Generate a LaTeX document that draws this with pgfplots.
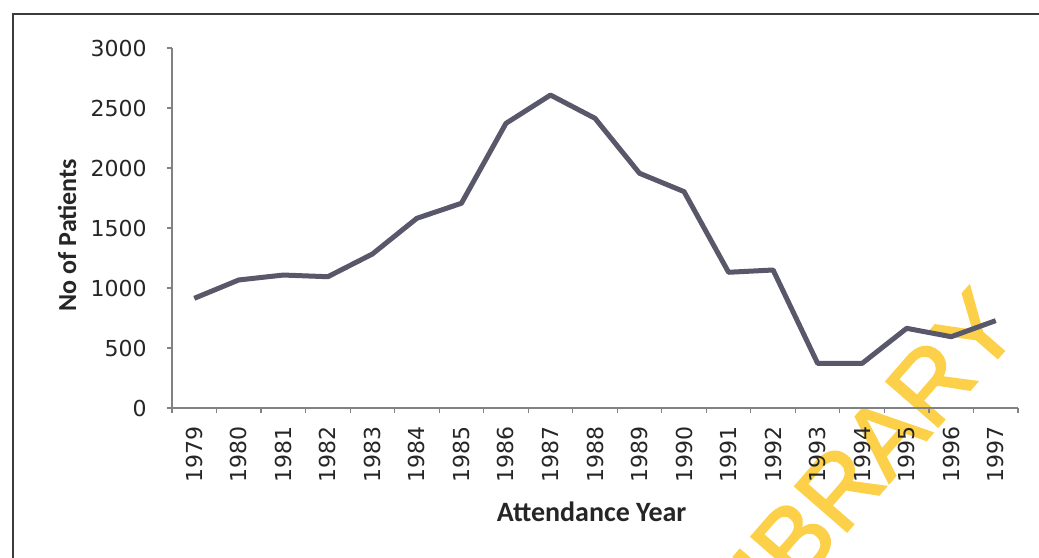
\documentclass[border=0pt]{standalone}
\usepackage{pgfplots}
\usepackage{pgfplotstable}
\pgfplotsset{compat=1.18}
\usepackage{fontspec}
\setmainfont{DejaVu Sans}
\newfontfamily\titlefont{Carlito}
\newfontfamily\stampfont[FakeBold=2]{Liberation Sans}

\definecolor{seriesgray}{RGB}{88,88,106}
\definecolor{axisgray}{RGB}{130,130,130}
\definecolor{framegray}{RGB}{60,60,60}
\definecolor{stampyellow}{RGB}{252,208,72}

% Patients seen per attendance year (index 0 = 1979)
\pgfplotstableread{
idx year patients
0  1979 914
1  1980 1067
2  1981 1108
3  1982 1094
4  1983 1283
5  1984 1581
6  1985 1706
7  1986 2372
8  1987 2608
9  1988 2414
10 1989 1956
11 1990 1803
12 1991 1131
13 1992 1150
14 1993 372
15 1994 372
16 1995 664
17 1996 594
18 1997 728
}\attendance

\begin{document}
\begin{tikzpicture}
\useasboundingbox (0,0) rectangle (519.5pt,278.5pt);
% chart-area frame (only the top and left edges fall on the page)
\draw[framegray, line width=1pt] (6.5pt,-5pt) -- (6.5pt,271.5pt) -- (530pt,271.5pt);
% library stamp
\node[rotate=49, anchor=base east, inner sep=0pt, text=stampyellow,
      font=\stampfont\fontsize{50}{50}\selectfont] at (511.5pt,114pt) {LIBRARY};
\begin{axis}[
  at={(86pt,74.5pt)}, anchor=south west,
  scale only axis, width=423pt, height=180pt,
  xmin=-0.5, xmax=18.5, ymin=0, ymax=3000,
  axis x line=bottom, axis y line=left,
  axis line style={-, axisgray, line width=0.75pt},
  tick align=outside, major tick length=2.5pt,
  tick style={axisgray, line width=0.6pt},
  xtick={-0.5,0.5,...,18.5}, xticklabels={},
  extra x ticks={0,...,18},
  extra x tick labels={1979,1980,1981,1982,1983,1984,1985,1986,1987,1988,1989,1990,1991,1992,1993,1994,1995,1996,1997},
  extra x tick style={major tick length=0pt,
    xticklabel style={rotate=90, anchor=east, inner sep=0pt, xshift=-9pt}},
  ytick={0,500,...,3000},
  yticklabel style={anchor=east, inner sep=0pt, xshift=-10pt},
  tick label style={font=\fontsize{11}{13}\selectfont, text=black!85},
  /pgf/number format/assume math mode=true,
  /pgf/number format/1000 sep={},
  xlabel={Attendance Year},
  ylabel={No of Patients},
  xlabel style={at={(axis description cs:0.496,-0.289)}, anchor=center,
    font=\titlefont\bfseries\fontsize{14}{16}\selectfont, text=black!85},
  ylabel style={at={(axis description cs:-0.124,0.48)}, anchor=center, rotate=0,
    font=\titlefont\bfseries\fontsize{13}{15}\selectfont, text=black!85},
  clip=false,
]
\addplot[seriesgray, line width=2.5pt, line join=round, mark=none]
  table[x=idx, y=patients] {\attendance};
\end{axis}
\end{tikzpicture}
\end{document}
